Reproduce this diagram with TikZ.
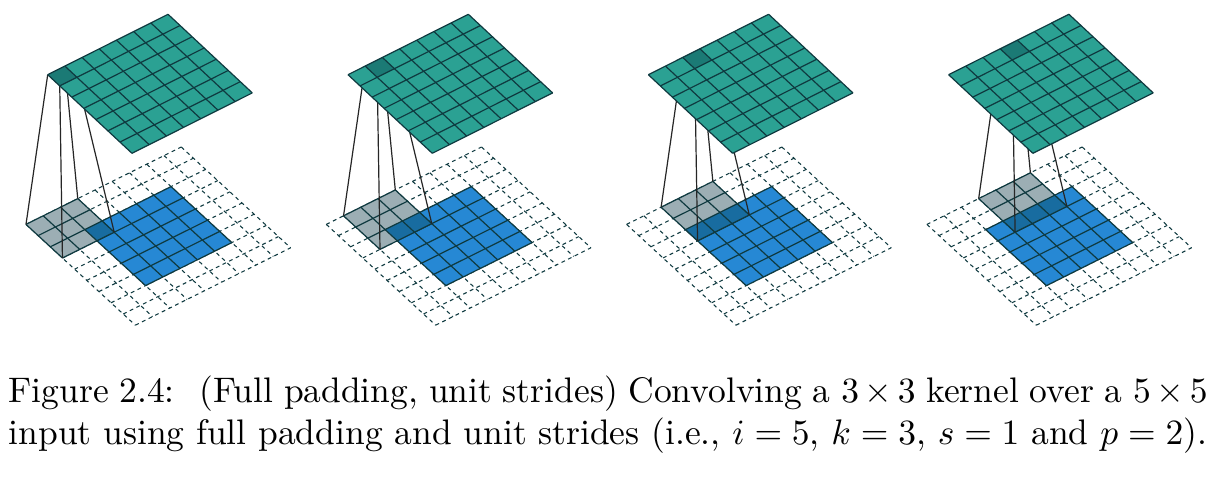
\documentclass[tikz,border=0pt]{standalone}
\definecolor{topc}{HTML}{2BA193}
\definecolor{topd}{HTML}{1B7A75}
\definecolor{bluec}{HTML}{2688D4}
\definecolor{blued}{HTML}{186CA0}
\definecolor{greyc}{HTML}{9CAEB4}
\definecolor{gridc}{HTML}{0F3A40}
\tikzset{
  gridline/.style={draw=gridc,line width=1.2pt,line join=round},
  dashgrid/.style={draw=gridc,line width=1.05pt,dash pattern=on 3.8pt off 3.6pt},
  link/.style={draw=black!85,line width=1.2pt},
  captionline/.style={anchor=base west,inner sep=0pt,scale=3.55}
}
\newcommand\ipt[2]{({26+(#1)*17.25+(#2)*12.15},{224.4+(#1)*(-8.6)+(#2)*11.2})}
\newcommand\tpt[2]{({47.7+(#1)*17.19+(#2)*12.04},{74.7+(#1)*(-8.63)+(#2)*11.23})}
\begin{document}
\begin{tikzpicture}[x=1pt,y=-1pt]
\useasboundingbox (0,0) rectangle (1230,478);
\fill[white] (0,0) rectangle (1230,478);
\foreach \k/\dx in {0/0,1/300.3,2/600.6,3/900.9}{
\begin{scope}[shift={(\dx,0)}]
  \pgfmathtruncatemacro\kc{\k+3}
  \pgfmathtruncatemacro\ka{\k+1}
  % padded input grid
  \foreach \n in {0,...,9}{
    \draw[dashgrid] \ipt{\n}{0} -- \ipt{\n}{9};
    \draw[dashgrid] \ipt{0}{\n} -- \ipt{9}{\n};
  }
  % input
  \fill[bluec] \ipt{2}{2} -- \ipt{7}{2} -- \ipt{7}{7} -- \ipt{2}{7} -- cycle;
  \foreach \n in {2,...,7}{
    \draw[gridline] \ipt{\n}{2} -- \ipt{\n}{7};
    \draw[gridline] \ipt{2}{\n} -- \ipt{7}{\n};
  }
  % kernel
  \foreach \i in {0,1,2}{
    \foreach \j in {0,1,2}{
      \pgfmathtruncatemacro\ci{\k+\i}
      \pgfmathtruncatemacro\cj{\ci+1}
      \pgfmathtruncatemacro\dj{\j+1}
      \pgfmathtruncatemacro\over{(\ci>=2)&&(\j>=2)?1:0}
      \ifnum\over=1 \def\cellc{blued}\else\def\cellc{greyc}\fi
      \fill[\cellc] \ipt{\ci}{\j} -- \ipt{\cj}{\j} -- \ipt{\cj}{\dj} -- \ipt{\ci}{\dj} -- cycle;
    }
  }
  \foreach \n in {0,...,3}{
    \pgfmathtruncatemacro\m{\k+\n}
    \draw[gridline] \ipt{\m}{0} -- \ipt{\m}{3};
    \draw[gridline] \ipt{\k}{\n} -- \ipt{\kc}{\n};
  }
  % named corners
  \path \ipt{\k}{0} coordinate (kl\k);
  \path \ipt{\k}{3} coordinate (kb\k);
  \path \ipt{\kc}{0} coordinate (kt\k);
  \path \ipt{\kc}{3} coordinate (kr\k);
  \path \tpt{\k}{0} coordinate (ol\k);
  \path \tpt{\k}{1} coordinate (ob\k);
  \path \tpt{\ka}{0} coordinate (ot\k);
  \path \tpt{\ka}{1} coordinate (or\k);
  % connectors
  \draw[link] (kl\k) -- (ol\k);
  \draw[link] (kb\k) -- (ob\k);
  \draw[link] (kt\k) -- (ot\k);
  \draw[link] (kr\k) -- (or\k);
  % output
  \fill[topc] \tpt{0}{0} -- \tpt{7}{0} -- \tpt{7}{7} -- \tpt{0}{7} -- cycle;
  \fill[topd] (ol\k) -- (ot\k) -- (or\k) -- (ob\k) -- cycle;
  \foreach \n in {0,...,7}{
    \draw[gridline] \tpt{\n}{0} -- \tpt{\n}{7};
    \draw[gridline] \tpt{0}{\n} -- \tpt{7}{\n};
  }
\end{scope}
}
\node[captionline] (capa) at (8,402) {\hbox to 337.7pt{Figure 2.4:\ \ \hspace{1pt}(Full padding, unit strides) Convolving a $3\times3$ kernel over a $5\times5$}};
\node[captionline] (capb) at (8,444) {input using full padding and unit strides (i.e., $i=5$, $k=3$, $s=1$ and $p=2$).};
\end{tikzpicture}
\end{document}
